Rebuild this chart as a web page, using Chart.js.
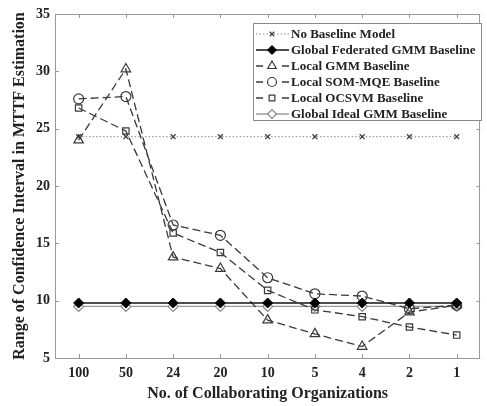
<!DOCTYPE html>
<html><head><meta charset="utf-8">
<script src="https://cdn.jsdelivr.net/npm/chart.js@4"></script>
<style>html,body{margin:0;padding:0;background:#fff}#wrap{width:487px;height:406px}</style>
</head><body><div id="wrap"><canvas id="c" width="487" height="406"></canvas></div>
<script>
const categories = ['100','50','24','20','10','5','4','2','1'];
const noBaseline      = [24.3,24.3,24.3,24.3,24.3,24.3,24.3,24.3,24.3];
const globalFederated = [9.8,9.8,9.8,9.8,9.8,9.8,9.8,9.8,9.8];
const localGMM        = [24.0,30.2,13.8,12.8,8.3,7.1,6.0,9.0,9.6];
const localSOM        = [27.6,27.8,16.6,15.7,12.0,10.6,10.4,9.3,9.6];
const localOCSVM      = [26.8,24.8,15.9,14.2,10.9,9.2,8.6,7.7,7.0];
const globalIdeal     = [9.5,9.5,9.5,9.5,9.5,9.5,9.5,9.5,9.5];
const yTicks = [5,10,15,20,25,30,35];
const seriesNames = ['No Baseline Model','Global Federated GMM Baseline','Local GMM Baseline','Local SOM-MQE Baseline','Local OCSVM Baseline','Global Ideal GMM Baseline'];
const xTitle = 'No. of Collaborating Organizations';
const yTitle = 'Range of Confidence Interval in MTTF Estimation';

const FONT = "'Liberation Serif','Times New Roman',serif";
const DARK = '#3a3a3a';
const open = 'rgba(0,0,0,0)';

const datasets = [
  {label: seriesNames[0], data: noBaseline, borderColor:'#8a8a8a', borderWidth:1, borderDash:[1.5,2],
   pointStyle:'crossRot', pointRadius:3.5, pointBorderColor:DARK, pointBorderWidth:1.2, pointBackgroundColor:open},
  {label: seriesNames[1], data: globalFederated, borderColor:'#111', borderWidth:1.6, borderDash:[],
   pointStyle:'rectRot', pointRadius:5, pointBorderColor:'#000', pointBorderWidth:1, pointBackgroundColor:'#000'},
  {label: seriesNames[2], data: localGMM, borderColor:DARK, borderWidth:1.3, borderDash:[8,4],
   pointStyle:'triangle', pointRadius:5.5, pointBorderColor:DARK, pointBorderWidth:1.2, pointBackgroundColor:open},
  {label: seriesNames[3], data: localSOM, borderColor:DARK, borderWidth:1.3, borderDash:[8,4],
   pointStyle:'circle', pointRadius:5, pointBorderColor:DARK, pointBorderWidth:1.2, pointBackgroundColor:open},
  {label: seriesNames[4], data: localOCSVM, borderColor:DARK, borderWidth:1.3, borderDash:[8,4],
   pointStyle:'rect', pointRadius:4.5, pointBorderColor:DARK, pointBorderWidth:1.2, pointBackgroundColor:open},
  {label: seriesNames[5], data: globalIdeal, borderColor:'#9a9a9a', borderWidth:1.3, borderDash:[],
   pointStyle:'rectRot', pointRadius:5, pointBorderColor:'#8a8a8a', pointBorderWidth:1.2, pointBackgroundColor:'#fff'}
];
datasets.forEach(d => { d.fill = false; d.tension = 0; d.pointHoverRadius = d.pointRadius; });

const framePlugin = {
  id: 'frame',
  afterDraw(chart) {
    const {ctx, chartArea: a, scales} = chart;
    ctx.save();
    ctx.strokeStyle = '#9a9a9a';
    ctx.lineWidth = 1;
    ctx.strokeRect(Math.round(a.left)+0.5, Math.round(a.top)+0.5, Math.round(a.right-a.left)-1, Math.round(a.bottom-a.top));
    const tl = 4;
    ctx.beginPath();
    scales.x.ticks.forEach((t, i) => {
      const x = Math.round(scales.x.getPixelForTick(i)) + 0.5;
      ctx.moveTo(x, a.bottom); ctx.lineTo(x, a.bottom - tl);
      ctx.moveTo(x, a.top); ctx.lineTo(x, a.top + tl);
    });
    scales.y.ticks.forEach((t) => {
      const y = Math.round(scales.y.getPixelForValue(t.value)) + 0.5;
      ctx.moveTo(a.left, y); ctx.lineTo(a.left + tl, y);
      ctx.moveTo(a.right, y); ctx.lineTo(a.right - tl, y);
    });
    ctx.stroke();

    // legend
    const bx = 253.5, by = 23.5, bw = 228, bh = 97;
    ctx.fillStyle = '#fff';
    ctx.fillRect(bx, by, bw, bh);
    ctx.strokeStyle = '#8a8a8a';
    ctx.strokeRect(bx, by, bw, bh);
    ctx.font = "bold 13px " + FONT;
    ctx.textBaseline = 'middle';
    ctx.textAlign = 'left';
    chart.data.datasets.forEach((d, i) => {
      const y = 34 + i * 16;
      const x0 = 256, x1 = 289, xm = 272;
      ctx.save();
      ctx.strokeStyle = d.borderColor;
      ctx.lineWidth = d.borderWidth;
      ctx.setLineDash(d.borderDash && d.borderDash.length ? (i >= 2 && i <= 4 ? [7,19] : d.borderDash) : []);
      ctx.beginPath(); ctx.moveTo(x0, y); ctx.lineTo(x1, y); ctx.stroke();
      ctx.restore();
      ctx.save();
      ctx.setLineDash([]);
      ctx.fillStyle = d.pointBackgroundColor;
      ctx.strokeStyle = d.pointBorderColor;
      ctx.lineWidth = d.pointBorderWidth;
      Chart.helpers.drawPoint(ctx, {pointStyle: d.pointStyle, radius: d.pointRadius * 0.9, borderWidth: d.pointBorderWidth, rotation: 0}, xm, y);
      ctx.restore();
      ctx.fillStyle = '#222';
      ctx.fillText(d.label, 291, y + 1);
    });
    ctx.restore();
  }
};

new Chart(document.getElementById('c'), {
  type: 'line',
  data: { labels: categories, datasets },
  options: {
    responsive: false,
    devicePixelRatio: 1,
    animation: false,
    layout: { padding: { top: 14, right: 2, left: 0, bottom: 0 } },
    plugins: { legend: { display: false }, tooltip: { enabled: false } },
    scales: {
      x: {
        type: 'category', offset: true,
        grid: { display: false, drawTicks: false },
        border: { display: false },
        ticks: { color: '#222', font: { family: FONT, size: 14, weight: 'bold' }, padding: 7, maxRotation: 0, autoSkip: false },
        title: { display: true, text: xTitle, color: '#222', font: { family: FONT, size: 16, weight: 'bold' }, padding: { top: 0, bottom: 3 } },
        afterFit(s) { s.height = 48; }
      },
      y: {
        min: 5, max: 35,
        afterBuildTicks(s) { s.ticks = yTicks.map(v => ({ value: v })); },
        grid: { display: false, drawTicks: false },
        border: { display: false },
        ticks: { color: '#222', font: { family: FONT, size: 14, weight: 'bold' }, padding: 5 },
        title: { display: true, text: yTitle, color: '#222', font: { family: FONT, size: 16, weight: 'bold' }, padding: { top: 10, bottom: 0 } },
        afterFit(s) { s.width = 55; }
      }
    }
  },
  plugins: [framePlugin]
});
</script></body></html>
